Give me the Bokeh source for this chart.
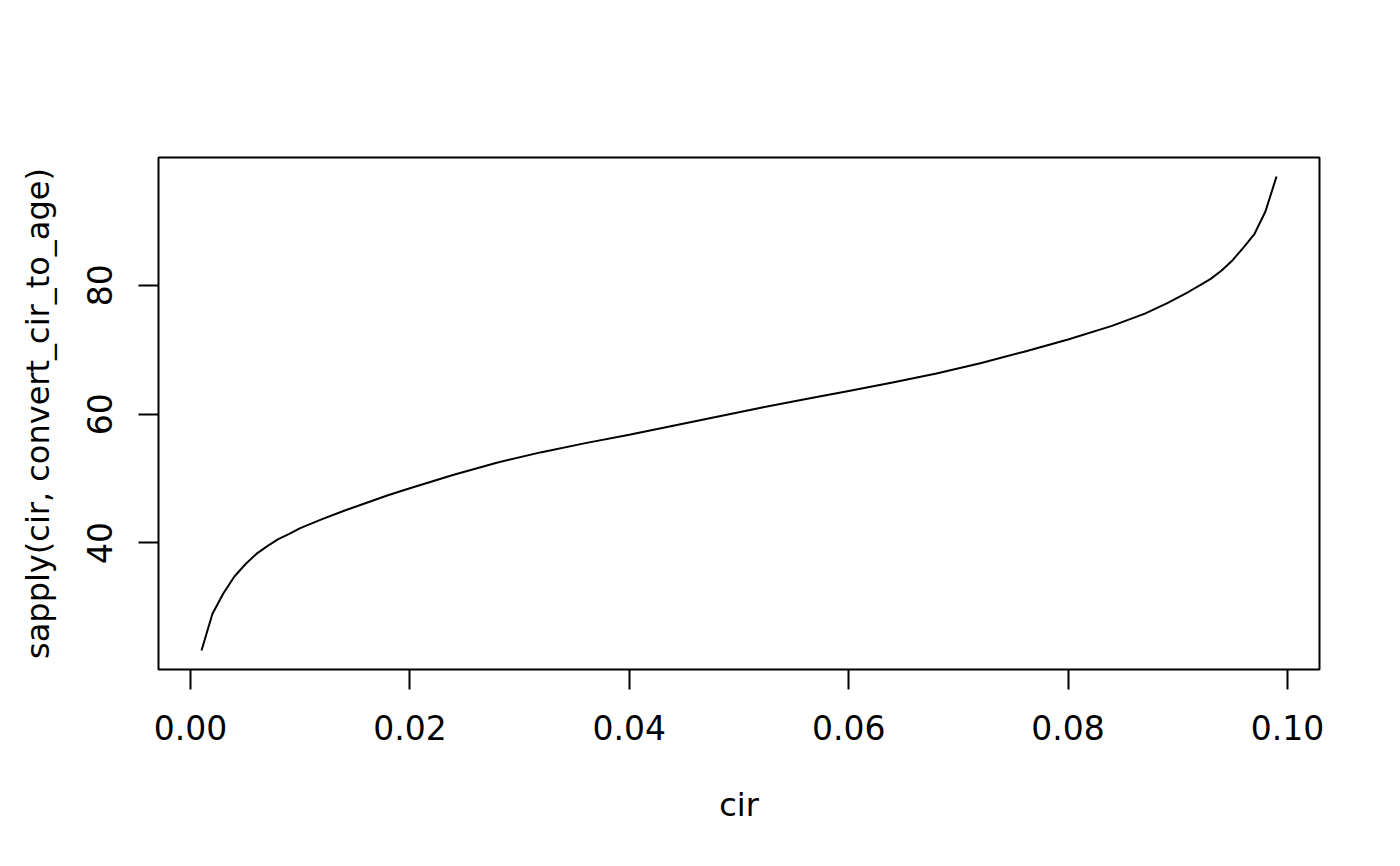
from bokeh.plotting import figure
from bokeh.models import Range1d, FixedTicker, PrintfTickFormatter
from bokeh.embed import file_html
from bokeh.resources import INLINE

# values
cir = [0.001, 0.002, 0.003, 0.004, 0.005, 0.006, 0.007, 0.008, 0.009, 0.010,
       0.012, 0.014, 0.016, 0.018, 0.020, 0.024, 0.028, 0.032, 0.036, 0.040,
       0.044, 0.048, 0.052, 0.056, 0.060, 0.064, 0.068, 0.072, 0.076, 0.080,
       0.084, 0.087, 0.089, 0.091, 0.092, 0.093, 0.094, 0.095, 0.096, 0.097,
       0.098, 0.099]
age = [23.3, 29.0, 32.2, 34.8, 36.7, 38.3, 39.5, 40.6, 41.4, 42.3,
       43.7, 45.0, 46.2, 47.4, 48.5, 50.6, 52.5, 54.1, 55.5, 56.8,
       58.2, 59.6, 61.0, 62.3, 63.6, 64.9, 66.3, 67.9, 69.7, 71.6,
       73.7, 75.6, 77.2, 79.0, 80.0, 81.0, 82.3, 83.9, 85.9, 88.0,
       91.5, 96.9]

x_ticks = [0.00, 0.02, 0.04, 0.06, 0.08, 0.10]
y_ticks = [40, 60, 80]
x_title = "cir"
y_title = "sapply(cir, convert_cir_to_age)"

FONT = "DejaVu Sans"
FS = "33px"
FS_TITLE = "32px"

def padded(vals, frac=0.04):
    lo, hi = min(vals), max(vals)
    d = (hi - lo) * frac
    return Range1d(lo - d, hi + d)

p = figure(width=1384, height=850, output_backend="svg", toolbar_location=None,
           x_range=padded(cir), y_range=padded(age),
           min_border_left=158, min_border_right=65,
           min_border_top=157, min_border_bottom=181)

p.line(cir, age, line_color="black", line_width=2)

p.grid.visible = False
p.background_fill_color = "white"
p.border_fill_color = "white"
p.outline_line_color = "black"
p.outline_line_width = 2
p.outline_line_alpha = 1.0

for ax in (p.xaxis[0], p.yaxis[0]):
    ax.axis_line_color = None
    ax.major_tick_in = 0
    ax.major_tick_out = 20
    ax.major_tick_line_width = 2
    ax.major_tick_line_color = "black"
    ax.minor_tick_line_color = None
    ax.major_label_text_font = FONT
    ax.major_label_text_font_size = FS
    ax.major_label_text_color = "black"
    ax.axis_label_text_font = FONT
    ax.axis_label_text_font_size = FS_TITLE
    ax.axis_label_text_font_style = "normal"
    ax.axis_label_text_color = "black"

p.xaxis.ticker = FixedTicker(ticks=x_ticks)
p.xaxis.formatter = PrintfTickFormatter(format="%.2f")
p.xaxis.axis_label = x_title
p.xaxis.major_label_standoff = 25
p.xaxis.axis_label_standoff = 43

p.yaxis.ticker = FixedTicker(ticks=y_ticks)
p.yaxis.formatter = PrintfTickFormatter(format="%d")
p.yaxis.axis_label = y_title
p.yaxis.major_label_orientation = "vertical"
p.yaxis.major_label_standoff = 26
p.yaxis.axis_label_standoff = 28

open("out.html", "w").write(file_html(p, INLINE))
